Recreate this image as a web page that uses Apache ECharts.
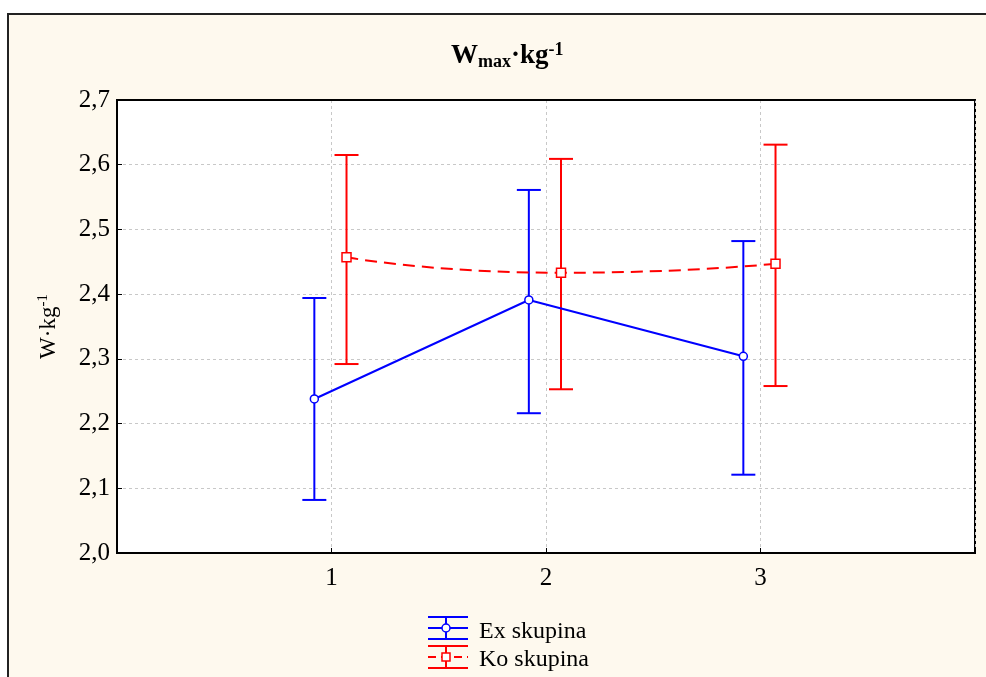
<!DOCTYPE html>
<html>
<head>
<meta charset="utf-8">
<script src="https://cdn.jsdelivr.net/npm/echarts@6/dist/echarts.min.js"></script>
<style>html,body{margin:0;padding:0;background:#fff}#c{width:986px;height:677px}</style>
</head>
<body>
<div id="c"></div>
<script>
var categories = [1, 2, 3];
var exMean = [2.238, 2.391, 2.304];
var exLow  = [2.082, 2.216, 2.121];
var exHigh = [2.394, 2.561, 2.482];
var koMean = [2.457, 2.433, 2.447];
var koLow  = [2.292, 2.253, 2.258];
var koHigh = [2.615, 2.609, 2.631];
var yTicks = [2.0, 2.1, 2.2, 2.3, 2.4, 2.5, 2.6, 2.7];
var seriesNames = ['Ex skupina', 'Ko skupina'];

var EX_OFF = -0.08, KO_OFF = 0.07;
var BLUE = '#0000FF', RED = '#FF0000';
var FONT = '"Liberation Serif", "Times New Roman", serif';

function lineData(means, off) {
  return categories.map(function (c, i) { return [c + off, means[i]]; });
}
function barData(lo, hi, off) {
  return categories.map(function (c, i) { return [c + off, lo[i], hi[i]]; });
}
function errRender(color) {
  return function (params, api) {
    var x = api.value(0);
    var top = api.coord([x, api.value(2)]);
    var bot = api.coord([x, api.value(1)]);
    var hw = 12;
    var st = { stroke: color, lineWidth: 2 };
    return {
      type: 'group',
      children: [
        { type: 'line', shape: { x1: top[0], y1: top[1], x2: bot[0], y2: bot[1] }, style: st },
        { type: 'line', shape: { x1: top[0] - hw, y1: top[1], x2: top[0] + hw, y2: top[1] }, style: st },
        { type: 'line', shape: { x1: bot[0] - hw, y1: bot[1], x2: bot[0] + hw, y2: bot[1] }, style: st }
      ]
    };
  };
}

var chart = echarts.init(document.getElementById('c'), null, { renderer: 'canvas' });

var legendX = 428, legendY1 = 628, legendY2 = 657;
function legendIcon(cx, cy, color, dashed, symbol) {
  var st = { stroke: color, lineWidth: 2 };
  var kids = [
    { type: 'line', shape: { x1: cx, y1: cy - 11, x2: cx + 40, y2: cy - 11 }, style: st },
    { type: 'line', shape: { x1: cx, y1: cy + 11, x2: cx + 40, y2: cy + 11 }, style: st },
    { type: 'line', shape: { x1: cx + 18, y1: cy - 11, x2: cx + 18, y2: cy + 11 }, style: st },
    { type: 'line', shape: { x1: cx, y1: cy, x2: cx + 40, y2: cy }, style: dashed ? { stroke: color, lineWidth: 2, lineDash: [8, 5] } : st }
  ];
  if (symbol === 'circle') {
    kids.push({ type: 'circle', shape: { cx: cx + 18, cy: cy, r: 4 }, style: { fill: '#fff', stroke: color, lineWidth: 1.5 } });
  } else {
    kids.push({ type: 'rect', shape: { x: cx + 14, y: cy - 4, width: 8, height: 8 }, style: { fill: '#fff', stroke: color, lineWidth: 1.5 } });
  }
  return { type: 'group', children: kids, z: 10 };
}

var axisFrame = {
  axisLine: { show: true, lineStyle: { color: '#000', width: 2 } },
  axisTick: { show: false }, axisLabel: { show: false }, splitLine: { show: false }, z: 5
};

var option = {
  backgroundColor: '#ffffff',
  animation: false,
  title: {
    text: 'W{sub|max}·kg{sup|-1}',
    left: 446, top: 36,
    textStyle: {
      fontFamily: FONT, fontSize: 27, fontWeight: 'bold', color: '#000',
      rich: {
        sub: { fontFamily: FONT, fontSize: 18, fontWeight: 'bold', verticalAlign: 'bottom', padding: [12, 0, 0, 0], color: '#000' },
        sup: { fontFamily: FONT, fontSize: 18, fontWeight: 'bold', verticalAlign: 'top', padding: [0, 0, 12, 0], color: '#000' }
      }
    }
  },
  graphic: [
    { type: 'rect', shape: { x: 8, y: 14, width: 1000, height: 700 }, style: { fill: '#FEF9EE', stroke: '#222', lineWidth: 2 }, z: -10, silent: true },
    legendIcon(legendX, legendY1, BLUE, false, 'circle'),
    legendIcon(legendX, legendY2, RED, true, 'rect'),
    { type: 'text', x: 479, y: 632, style: { text: seriesNames[0], font: '24px ' + FONT, fill: '#000', verticalAlign: 'middle' }, z: 10 },
    { type: 'text', x: 479, y: 660, style: { text: seriesNames[1], font: '24px ' + FONT, fill: '#000', verticalAlign: 'middle' }, z: 10 }
  ],
  grid: {
    left: 117, top: 100, right: 11, bottom: 124,
    show: true, backgroundColor: '#ffffff', borderColor: '#000', borderWidth: 2
  },
  xAxis: [{
    type: 'value', min: 0, max: 4, interval: 1,
    axisLine: { show: true, lineStyle: { color: '#000', width: 2 } },
    axisTick: { show: true, inside: true, length: 5, lineStyle: { color: '#000' } },
    axisLabel: {
      margin: 13, fontFamily: FONT, fontSize: 25, color: '#000',
      formatter: function (v) { return (v >= 1 && v <= 3) ? String(v) : ''; }
    },
    splitLine: { show: true, lineStyle: { color: '#c8c8c8', type: [3, 3], width: 1 } }
  }, Object.assign({ type: 'value', min: 0, max: 4, position: 'top' }, axisFrame)],
  yAxis: [{
    type: 'value', min: yTicks[0], max: yTicks[yTicks.length - 1], interval: 0.1,
    name: 'W·kg{sup|-1}', nameLocation: 'middle', nameGap: 56, nameRotate: 90,
    nameTextStyle: {
      fontFamily: FONT, fontSize: 23, color: '#000',
      rich: { sup: { fontFamily: FONT, fontSize: 15, verticalAlign: 'top', padding: [0, 0, 10, 0], color: '#000' } }
    },
    axisLine: { show: true, lineStyle: { color: '#000', width: 2 } },
    axisTick: { show: true, inside: true, length: 5, lineStyle: { color: '#000' } },
    axisLabel: {
      margin: 7, fontFamily: FONT, fontSize: 25, color: '#000',
      formatter: function (v) { return v.toFixed(1).replace('.', ','); }
    },
    splitLine: { show: true, lineStyle: { color: '#c8c8c8', type: [3, 3], width: 1 } }
  }, Object.assign({ type: 'value', min: yTicks[0], max: yTicks[yTicks.length - 1], position: 'right' }, axisFrame)],
  series: [
    { name: seriesNames[0] + ' err', type: 'custom', renderItem: errRender(BLUE), data: barData(exLow, exHigh, EX_OFF), z: 2, encode: { x: 0, y: [1, 2] } },
    { name: seriesNames[1] + ' err', type: 'custom', renderItem: errRender(RED), data: barData(koLow, koHigh, KO_OFF), z: 2, encode: { x: 0, y: [1, 2] } },
    {
      name: seriesNames[0], type: 'line', data: lineData(exMean, EX_OFF), z: 3,
      lineStyle: { color: BLUE, width: 2 },
      symbol: 'circle', symbolSize: 8,
      itemStyle: { color: '#fff', borderColor: BLUE, borderWidth: 1.5 }
    },
    {
      name: seriesNames[1], type: 'line', data: lineData(koMean, KO_OFF), z: 3, smooth: 0.6,
      lineStyle: { color: RED, width: 2, type: [12, 7] },
      symbol: 'rect', symbolSize: 9,
      itemStyle: { color: '#fff', borderColor: RED, borderWidth: 1.5 }
    }
  ]
};
chart.setOption(option);
</script>
</body>
</html>
